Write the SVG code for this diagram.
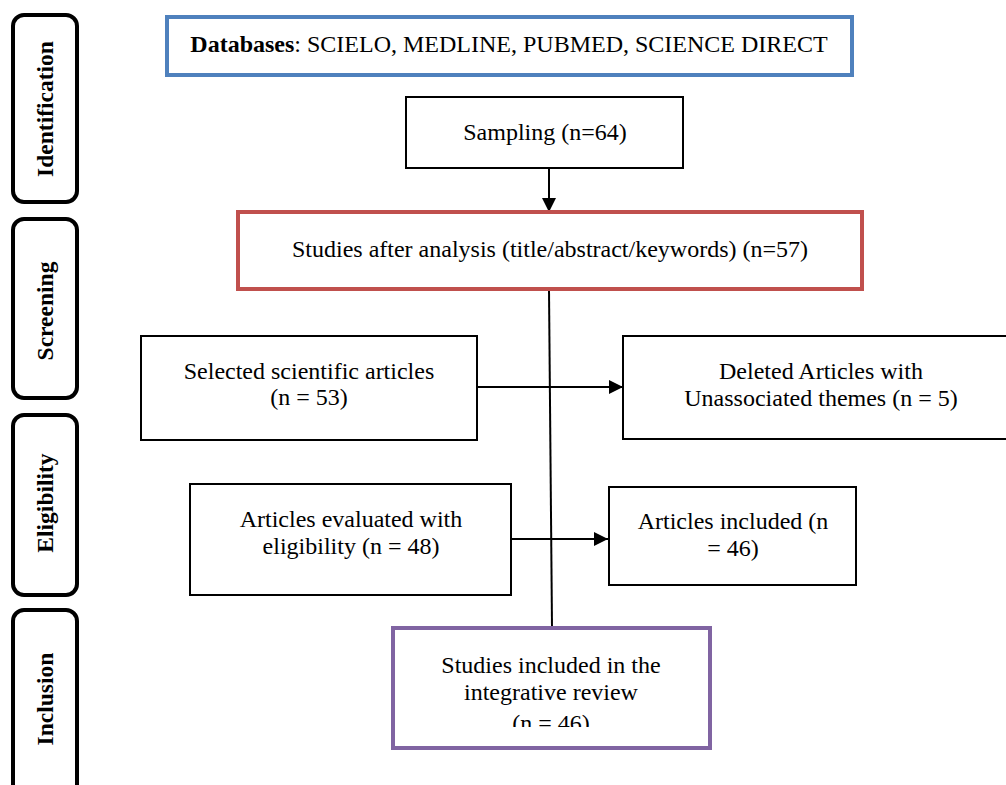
<svg xmlns="http://www.w3.org/2000/svg" width="1006" height="785" viewBox="0 0 1006 785">
<defs>
<style>
text{font-family:"Liberation Serif","Times New Roman",serif;font-size:24px;fill:#000;text-anchor:middle}
.phase rect{fill:#fff;stroke:#000;stroke-width:4}
.phase text{font-weight:bold;font-size:23.5px}
.box{fill:#fff;stroke:#000;stroke-width:2}
.conn{stroke:#000;stroke-width:2;fill:none}
</style>
<marker id="arr" viewBox="0 0 14 14" refX="14" refY="7" markerWidth="14" markerHeight="14" markerUnits="userSpaceOnUse" orient="auto">
<path d="M0,0 L14,7 L0,14 z" fill="#000"/>
</marker>
<clipPath id="clipIncl"><rect x="393" y="628" width="317" height="99"/></clipPath>
</defs>
<rect width="1006" height="785" fill="#fff"/>

<g id="phase-identification" class="phase">
<rect x="13" y="15" width="64" height="187" rx="11"/>
<text transform="translate(53,109) rotate(-90)">Identification</text>
</g>
<g id="phase-screening" class="phase">
<rect x="13" y="219" width="64" height="179" rx="11"/>
<text transform="translate(53,311) rotate(-90)">Screening</text>
</g>
<g id="phase-eligibility" class="phase">
<rect x="13" y="415" width="64" height="180" rx="11"/>
<text transform="translate(53,503) rotate(-90)">Eligibility</text>
</g>
<g id="phase-inclusion" class="phase">
<rect x="13" y="610" width="64" height="200" rx="11"/>
<text transform="translate(53,699) rotate(-90)">Inclusion</text>
</g>

<g id="connectors">
<line class="conn" x1="549" y1="168" x2="549" y2="212" marker-end="url(#arr)"/>
<line class="conn" x1="549" y1="290" x2="552" y2="627"/>
<line class="conn" x1="477" y1="387" x2="623" y2="387" marker-end="url(#arr)"/>
<line class="conn" x1="511" y1="539" x2="608" y2="539" marker-end="url(#arr)"/>
</g>

<g id="databases">
<rect x="167" y="17" width="685" height="58" fill="#fff" stroke="#4f81bd" stroke-width="4"/>
<text x="509" y="52"><tspan font-weight="bold">Databases</tspan>: SCIELO, MEDLINE, PUBMED, SCIENCE DIRECT</text>
</g>
<g id="sampling">
<rect class="box" x="406" y="97" width="277" height="71"/>
<text x="545" y="140">Sampling (n=64)</text>
</g>
<g id="studies-after">
<rect x="238" y="212" width="624" height="77" fill="#fff" stroke="#c0504d" stroke-width="4"/>
<text x="550" y="257">Studies after analysis (title/abstract/keywords) (n=57)</text>
</g>
<g id="selected">
<rect class="box" x="141" y="336" width="336" height="104"/>
<text x="309" y="379">Selected scientific articles</text>
<text x="309" y="405">(n = 53)</text>
</g>
<g id="deleted">
<rect class="box" x="623" y="336" width="390" height="103"/>
<text x="821" y="379">Deleted Articles with</text>
<text x="821" y="406">Unassociated themes (n = 5)</text>
</g>
<g id="evaluated">
<rect class="box" x="190" y="484" width="321" height="111"/>
<text x="351" y="527">Articles evaluated with</text>
<text x="351" y="554">eligibility (n = 48)</text>
</g>
<g id="included">
<rect class="box" x="609" y="487" width="247" height="98"/>
<text x="733" y="529">Articles included (n</text>
<text x="733" y="556">= 46)</text>
</g>
<g id="final">
<rect x="393" y="628" width="317" height="120" fill="#fff" stroke="#8064a2" stroke-width="4"/>
<g clip-path="url(#clipIncl)">
<text x="551" y="673">Studies included in the</text>
<text x="551" y="700">integrative review</text>
<text x="551" y="731">(n = 46)</text>
</g>
</g>
</svg>
